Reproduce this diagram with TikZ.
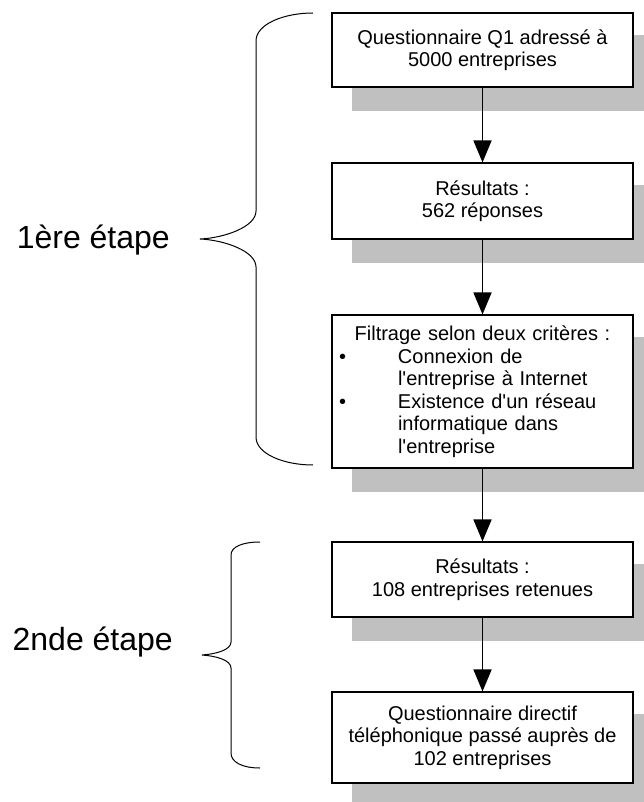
\documentclass[tikz,border=0pt]{standalone}
\usepackage{fontspec}
\setmainfont{Liberation Sans}[Ligatures=TeXOff]
\usetikzlibrary{arrows.meta,backgrounds}
\definecolor{shadowgray}{RGB}{192,192,192}
\tikzset{
  box/.style={draw=black, line width=1.1pt, fill=white, minimum width=301pt,
    inner sep=0pt, align=center, font=\fontsize{20}{22.5}\selectfont},
  flow/.style={line width=1.7pt, -{Triangle[length=22pt,width=18pt]}},
  brace/.style={line width=1pt, black},
  stage/.style={font=\fontsize{32}{36}\selectfont, inner sep=0pt, anchor=base east},
  boxshadow/.style={fill=shadowgray}
}
\newcommand{\shadowof}[1]{%
  \fill[boxshadow] ([shift={(21,23)}]#1.south west) rectangle ([shift={(21,23)}]#1.north east);}
\begin{document}
\begin{tikzpicture}[x=1pt,y=-1pt]
\useasboundingbox (0,0) rectangle (643,802);
\clip (0,0) rectangle (643,802);

% process boxes
\node[box, minimum height=74pt] (b1) at (482.5,50)
  {Questionnaire Q1 adressé à\\5000 entreprises};
\node[box, minimum height=76pt] (b2) at (482.5,201)
  {Résultats :\\562 réponses};
\node[box, minimum height=153pt, text width=301pt, align=left] (b3) at (482.5,391.5)
  {\makebox[\linewidth][c]{Filtrage selon deux critères :}\\
   \makebox[66pt][l]{\hspace{7pt}\textbullet}Connexion de\\
   \hspace*{66pt}l'entreprise à Internet\\
   \makebox[66pt][l]{\hspace{7pt}\textbullet}Existence d'un réseau\\
   \hspace*{66pt}informatique dans\\
   \hspace*{66pt}l'entreprise};
\node[box, minimum height=75pt] (b4) at (482.5,579.5)
  {Résultats :\\108 entreprises retenues};
\node[box, minimum height=91pt] (b5) at (482.5,737.5)
  {Questionnaire directif\\téléphonique passé auprès de\\102 entreprises};

% grey drop shadows behind the boxes
\begin{scope}[on background layer]
  \shadowof{b1}\shadowof{b2}\shadowof{b3}\shadowof{b4}\shadowof{b5}
\end{scope}

% flow arrows
\draw[flow] (b1.south) -- (b2.north);
\draw[flow] (b2.south) -- (b3.north);
\draw[flow] (b3.south) -- (b4.north);
\draw[flow] (b4.south) -- (b5.north);

% first stage brace and label
\draw[brace] (313,13) .. controls (284,13) and (256,24) .. (256,41)
  -- (256,211) .. controls (256,227) and (224,238) .. (200,239)
  .. controls (224,240) and (256,251) .. (256,267)
  -- (256,437) .. controls (256,454) and (284,465) .. (313,465);
\node[stage] (s1) at (170,248) {1ère étape};

% second stage brace and label
\draw[brace] (260,542) .. controls (242,542) and (231,547) .. (231,555)
  -- (231,642) .. controls (231,650) and (216,654) .. (202,655)
  .. controls (216,656) and (231,660) .. (231,668)
  -- (231,753) .. controls (231,762) and (242,768) .. (260,768);
\node[stage] (s2) at (173,650) {2nde étape};
\end{tikzpicture}
\end{document}
